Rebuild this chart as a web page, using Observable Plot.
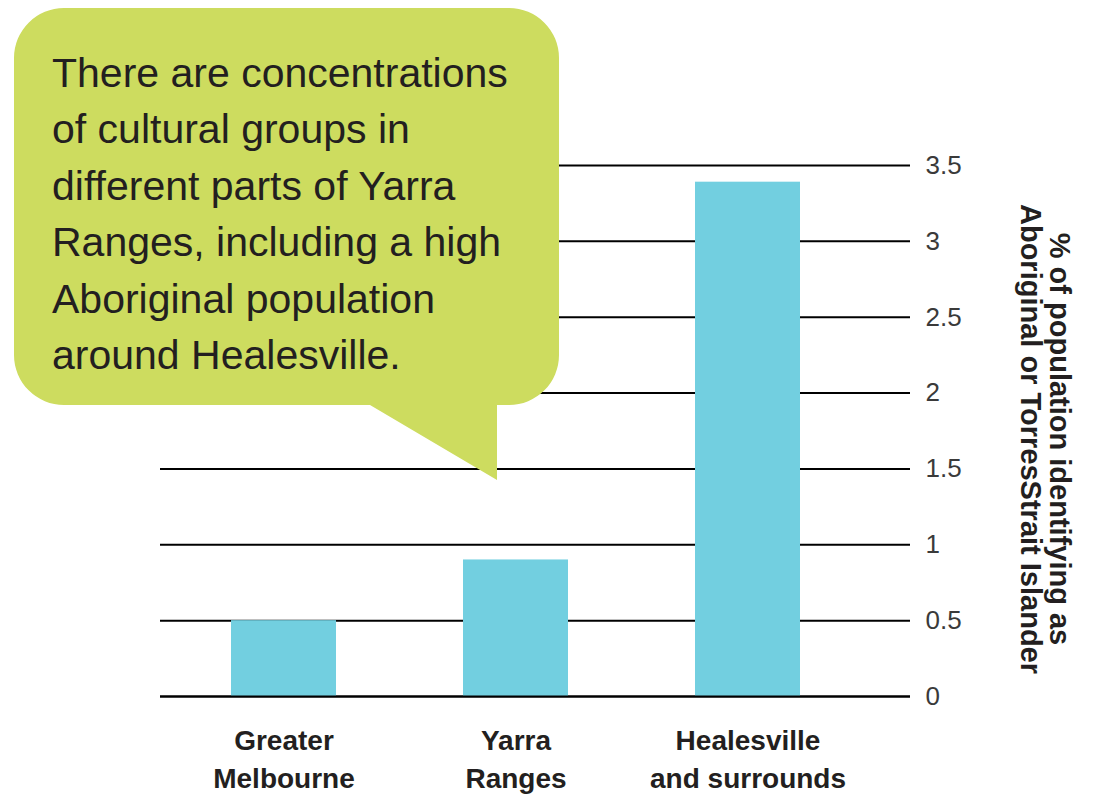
<!DOCTYPE html>
<html><head><meta charset="utf-8">
<script src="https://cdn.jsdelivr.net/npm/d3@7"></script>
<script src="https://cdn.jsdelivr.net/npm/@observablehq/plot@0.6"></script>
<style>body{margin:0;background:#fff;} #chart{position:relative;width:1113px;height:798px;}</style>
</head><body><div id="chart"></div>
<script>
const regions = ["Greater\nMelbourne", "Yarra\nRanges", "Healesville\nand surrounds"];
const values = [0.5, 0.9, 3.39];
const yTicks = [0, 0.5, 1, 1.5, 2, 2.5, 3, 3.5];
const yLabel = "% of population identifying as\nAboriginal or TorresStrait Islander";
const calloutLines = ["There are concentrations", "of cultural groups in", "different parts of Yarra", "Ranges, including a high", "Aboriginal population", "around Healesville."];

const data = regions.map((r, i) => ({region: r, value: values[i]}));
const font = "'Liberation Sans', Arial, Helvetica, sans-serif";

const plot = Plot.plot({
  width: 1113, height: 798,
  marginLeft: 160, marginRight: 203, marginTop: 165, marginBottom: 102,
  style: {fontFamily: font, background: "white", color: "#231f20"},
  x: {domain: regions, range: [166, 864], paddingInner: 0.548, paddingOuter: 0.275, axis: null},
  y: {domain: [0, 3.5], axis: null},
  marks: [
    Plot.ruleY(yTicks, {stroke: "#000", strokeWidth: 2}),
    Plot.barY(data, {x: "region", y: "value", fill: "#72cfe0"}),
    Plot.ruleY([0], {stroke: "#000", strokeWidth: 2}),
    Plot.axisY({anchor: "right", ticks: yTicks, tickSize: 0, tickPadding: 15, fontSize: 26, fill: "#3a3a3a", label: null, tickFormat: d => String(d)}),
    Plot.axisX({anchor: "bottom", tickSize: 0, tickPadding: 26, fontSize: 28, fontWeight: "bold", lineHeight: 1.36, label: null, fill: "#231f20"}),
    Plot.text([yLabel], {frameAnchor: "right", textAnchor: "middle", dx: 134, dy: 8, rotate: 90, fontSize: 29, fontWeight: "bold", lineHeight: 0.97, fill: "#231f20"})
  ]
});
document.getElementById("chart").appendChild(plot);

// callout annotation
const svg = d3.select(plot);
const g = svg.append("g");
const x0 = 14, y0 = 8, x1 = 559, y1 = 405, r = 50;
const p = d3.path();
p.moveTo(x0 + r, y0);
p.lineTo(x1 - r, y0);
p.arcTo(x1, y0, x1, y0 + r, r);
p.lineTo(x1, y1 - r);
p.arcTo(x1, y1, x1 - r, y1, r);
p.lineTo(497, y1);
p.lineTo(497, 480);
p.lineTo(370, y1);
p.lineTo(x0 + r, y1);
p.arcTo(x0, y1, x0, y1 - r, r);
p.lineTo(x0, y0 + r);
p.arcTo(x0, y0, x0 + r, y0, r);
p.closePath();
g.append("path").attr("d", p.toString()).attr("fill", "#cddc5f");
g.selectAll("text").data(calloutLines).join("text")
  .attr("x", 52).attr("y", (d, i) => 87 + i * 56.4)
  .attr("text-anchor", "start")
  .attr("font-family", font).attr("font-size", 41).attr("fill", "#231f20")
  .text(d => d);
</script></body></html>
